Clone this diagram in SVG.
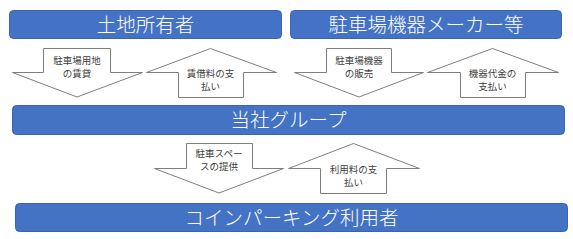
<svg xmlns="http://www.w3.org/2000/svg" width="573" height="239" viewBox="0 0 573 239">
<style>
.box{fill:#4472C4;stroke:#3A64AE;stroke-width:1}
.title{fill:#FFFFFF;font-family:"Noto Sans CJK JP","Noto Sans",sans-serif;font-size:19.5px;text-anchor:middle;font-weight:300}
.arr{fill:#FFFFFF;stroke:#7F7F7F;stroke-width:1}
.lbl{fill:#404040;font-family:"Noto Sans CJK JP","Noto Sans",sans-serif;font-size:9.5px;text-anchor:middle}
</style>
<rect width="573" height="239" fill="#FFFFFF"/>
<g id="node-landowner">
<rect class="box" x="9.5" y="10.5" width="272" height="28" rx="4"/>
<text class="title" x="145.5" y="31.5">土地所有者</text>
</g>
<g id="node-maker">
<rect class="box" x="290.5" y="10.5" width="271" height="28" rx="4"/>
<text class="title" x="426" y="31.5">駐車場機器メーカー等</text>
</g>
<g id="node-company">
<rect class="box" x="12.5" y="105.5" width="552" height="29" rx="4"/>
<text class="title" x="288.5" y="127">当社グループ</text>
</g>
<g id="node-users">
<rect class="box" x="15.5" y="203.5" width="552" height="28" rx="4"/>
<text class="title" x="291.5" y="224.5">コインパーキング利用者</text>
</g>
<g id="connectors">
<g id="arrow-land-lease">
<polygon class="arr" points="43.5,48.5 110.5,48.5 110.5,72.5 142.5,72.5 77,97 12.5,72.5 43.5,72.5"/>
<text class="lbl" x="77" y="63.5">駐車場用地</text>
<text class="lbl" x="77" y="76.5">の賃貸</text>
</g>
<g id="arrow-rent-pay">
<polygon class="arr" points="210.5,48.5 276.5,72.5 243.5,72.5 243.5,97.5 178.5,97.5 178.5,72.5 146.5,72.5"/>
<text class="lbl" x="210.5" y="76.5">賃借料の支</text>
<text class="lbl" x="210.5" y="89.5">払い</text>
</g>
<g id="arrow-equip-sale">
<polygon class="arr" points="326.5,48.5 391.5,48.5 391.5,72.5 423.5,72.5 359,97 294.5,72.5 326.5,72.5"/>
<text class="lbl" x="359" y="63.5">駐車場機器</text>
<text class="lbl" x="359" y="76.5">の販売</text>
</g>
<g id="arrow-equip-pay">
<polygon class="arr" points="492.5,48.5 558.5,72.5 525.5,72.5 525.5,97.5 460.5,97.5 460.5,72.5 427.5,72.5"/>
<text class="lbl" x="492.5" y="76.5">機器代金の</text>
<text class="lbl" x="492.5" y="89.5">支払い</text>
</g>
<g id="arrow-space">
<polygon class="arr" points="186.5,143.5 252.5,143.5 252.5,168.5 283.5,168.5 219,193 154.5,168.5 186.5,168.5"/>
<text class="lbl" x="219" y="156.5">駐車スペー</text>
<text class="lbl" x="219" y="169.5">スの提供</text>
</g>
<g id="arrow-fee-pay">
<polygon class="arr" points="353.5,143.5 419.5,168.5 386.5,168.5 386.5,193.5 320.5,193.5 320.5,168.5 288.5,168.5"/>
<text class="lbl" x="353.5" y="172.5">利用料の支</text>
<text class="lbl" x="353.5" y="185.5">払い</text>
</g>
</g>
</svg>
